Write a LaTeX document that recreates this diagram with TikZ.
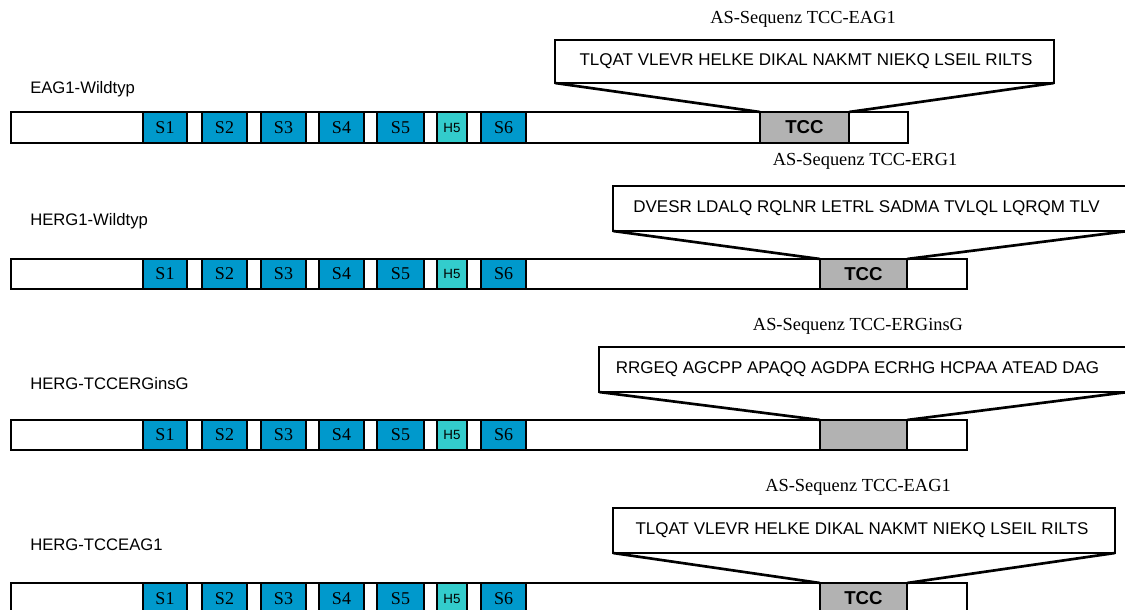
\documentclass[tikz,border=0pt]{standalone}
\usepackage{fontspec}
\setmainfont{Liberation Serif}
\newfontfamily\arialf{Liberation Sans}
\usetikzlibrary{fit}
\definecolor{sblue}{RGB}{0,153,204}
\definecolor{hteal}{RGB}{51,204,204}
\definecolor{tccgrey}{RGB}{178,178,178}
\tikzset{
  outl/.style={draw=black, line width=2pt, inner sep=0pt, outer sep=0pt},
  barbox/.style={outl, fill=white},
  barboxt/.style={},
  sbox/.style={outl, fill=sblue},
  sboxt/.style={font=\fontsize{13.5}{15}\selectfont},
  hbox/.style={outl, fill=hteal},
  hboxt/.style={font=\arialf\fontsize{10}{11}\selectfont},
  tccbox/.style={outl, fill=tccgrey},
  tccboxt/.style={font=\arialf\bfseries\fontsize{14}{16}\selectfont},
  seqbox/.style={outl, fill=white},
  seqboxt/.style={},
  seqtext/.style={font=\arialf\fontsize{12.75}{15}\selectfont, inner sep=0pt},
  rowlabel/.style={anchor=west, font=\arialf\fontsize{12.5}{15}\selectfont, inner sep=0pt},
  seqtitle/.style={font=\fontsize{13.8}{16}\selectfont, inner sep=0pt},
  conn/.style={draw=black, line width=2pt}
}
\newcommand\seg[7]{\node[#1, fit={(#3,#5)(#4,#6)}] (#2) {};
  \node[#1t, inner sep=0pt] at (#2.center) {#7};}
\newcommand\chan[3]{%
  \seg{sbox}{#1s1}{143}{187}{#2}{#3}{S1}
  \seg{sbox}{#1s2}{202}{247}{#2}{#3}{S2}
  \seg{sbox}{#1s3}{261}{306}{#2}{#3}{S3}
  \seg{sbox}{#1s4}{319}{364}{#2}{#3}{S4}
  \seg{sbox}{#1s5}{377}{424}{#2}{#3}{S5}
  \seg{hbox}{#1h5}{437}{467}{#2}{#3}{H5}
  \seg{sbox}{#1s6}{481}{526}{#2}{#3}{S6}}
\begin{document}
\begin{tikzpicture}[x=0.75pt,y=-0.75pt]
\useasboundingbox (0,0) rectangle (1125,610);
\clip (0,0) rectangle (1125,610);
\fill[white] (0,0) rectangle (1125,610);

% ---------- Row 1: EAG1-Wildtyp ----------
\node[seqtitle] (t1) at (803,19) {AS-Sequenz TCC-EAG1};
\seg{seqbox}{q1}{555}{1054}{40}{83}{}
\node[seqtext] (q1t) at (806,61.5) {TLQAT VLEVR HELKE DIKAL NAKMT NIEKQ LSEIL RILTS};
\node[rowlabel] (l1) at (30,89) {EAG1-Wildtyp};
\seg{barbox}{b1}{11}{908}{112}{143}{}
\chan{r1}{112}{143}
\seg{tccbox}{c1}{760}{849}{112}{143}{TCC}
\draw[conn] (q1.south west) -- (c1.north west);
\draw[conn] (q1.south east) -- (c1.north east);

% ---------- Row 2: HERG1-Wildtyp ----------
\node[seqtitle] (t2) at (865,161) {AS-Sequenz TCC-ERG1};
\seg{seqbox}{q2}{613}{1128}{186}{231}{}
\node[seqtext] (q2t) at (866.5,208.5) {DVESR LDALQ RQLNR LETRL SADMA TVLQL LQRQM TLV};
\node[rowlabel] (l2) at (30,221) {HERG1-Wildtyp};
\seg{barbox}{b2}{11}{967}{259}{289}{}
\chan{r2}{259}{289}
\seg{tccbox}{c2}{820}{907}{259}{289}{TCC}
\draw[conn] (q2.south west) -- (c2.north west);
\draw[conn] (q2.south east) -- (c2.north east);

% ---------- Row 3: HERG-TCCERGinsG ----------
\node[seqtitle] (t3) at (858,326) {AS-Sequenz TCC-ERGinsG};
\seg{seqbox}{q3}{599}{1128}{347}{392}{}
\node[seqtext] (q3t) at (857.5,369.5) {RRGEQ AGCPP APAQQ AGDPA ECRHG HCPAA ATEAD DAG};
\node[rowlabel] (l3) at (30,384) {HERG-TCCERGinsG};
\seg{barbox}{b3}{11}{967}{420}{450}{}
\chan{r3}{420}{450}
\seg{tccbox}{c3}{820}{907}{420}{450}{}
\draw[conn] (q3.south west) -- (c3.north west);
\draw[conn] (q3.south east) -- (c3.north east);

% ---------- Row 4: HERG-TCCEAG1 ----------
\node[seqtitle] (t4) at (858,487) {AS-Sequenz TCC-EAG1};
\seg{seqbox}{q4}{613}{1115}{508}{553}{}
\node[seqtext] (q4t) at (862,530.5) {TLQAT VLEVR HELKE DIKAL NAKMT NIEKQ LSEIL RILTS};
\node[rowlabel] (l4) at (30,545) {HERG-TCCEAG1};
\seg{barbox}{b4}{11}{967}{583}{614}{}
\chan{r4}{583}{614}
\seg{tccbox}{c4}{820}{907}{583}{614}{TCC}
\draw[conn] (q4.south west) -- (c4.north west);
\draw[conn] (q4.south east) -- (c4.north east);
\end{tikzpicture}
\end{document}
